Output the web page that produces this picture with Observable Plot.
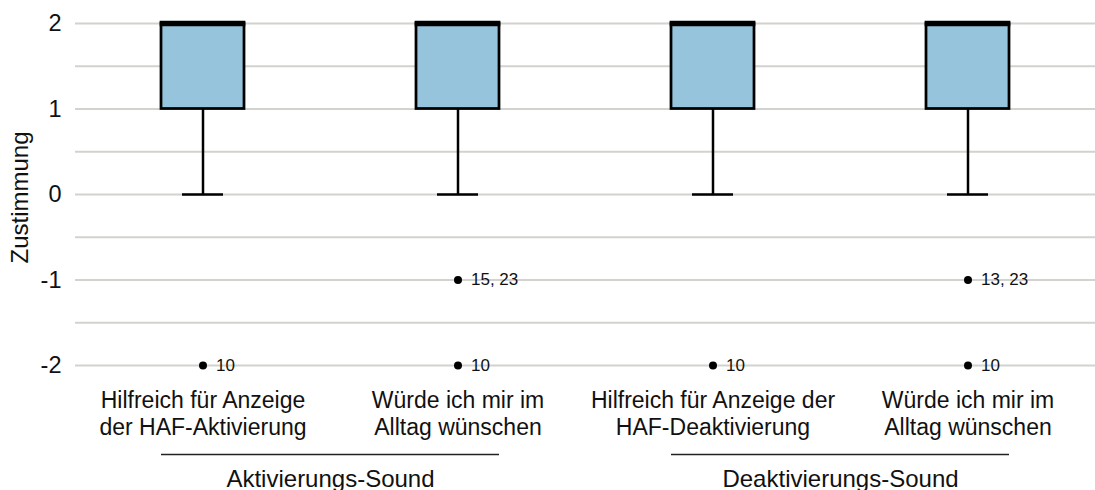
<!DOCTYPE html>
<html>
<head>
<meta charset="utf-8">
<script src="https://cdn.jsdelivr.net/npm/d3@7"></script>
<script src="https://cdn.jsdelivr.net/npm/@observablehq/plot@0.6"></script>
<style>
  body { margin: 0; background: #fff; }
  svg { font-family: "Liberation Sans", Arial, sans-serif; }
</style>
</head>
<body>
<div id="chart"></div>
<script>
// ---- data ----
const ids = ["A1", "A2", "D1", "D2"];
const labels = [
  "Hilfreich für Anzeige\nder HAF-Aktivierung",
  "Würde ich mir im\nAlltag wünschen",
  "Hilfreich für Anzeige der\nHAF-Deaktivierung",
  "Würde ich mir im\nAlltag wünschen"
];
const groupNames = ["Aktivierungs-Sound", "Deaktivierungs-Sound"];
const groupFirst = ["A1", "D1"];
const groupLast = ["A2", "D2"];
const q1 = [1, 1, 1, 1];
const median = [2, 2, 2, 2];
const q3 = [2, 2, 2, 2];
const whiskerLow = [0, 0, 0, 0];
const outlierIds = ["A1", "A2", "A2", "D1", "D2", "D2"];
const outlierValues = [-2, -1, -2, -2, -1, -2];
const outlierLabels = ["10", "15, 23", "10", "10", "13, 23", "10"];
const gridValues = [-2, -1.5, -1, -0.5, 0, 0.5, 1, 1.5, 2];
const yTicks = [-2, -1, 0, 1, 2];

// ---- tables ----
const boxes = ids.map((id, i) => ({id, label: labels[i], q1: q1[i], median: median[i], q3: q3[i], lo: whiskerLow[i]}));
const outliers = outlierIds.map((id, i) => ({id, value: outlierValues[i], label: outlierLabels[i]}));
const groups = groupNames.map((name, i) => ({name, first: groupFirst[i], last: groupLast[i]}));

const boxInset = 86;
const capInset = 107;
const font = "Liberation Sans, Arial, sans-serif";

const chart = Plot.plot({
  width: 1095,
  height: 490,
  marginTop: 23,
  marginBottom: 125,
  marginLeft: 75,
  marginRight: 0,
  style: {fontFamily: font, fontSize: "23px", color: "#111", background: "#fff"},
  x: {domain: ids, padding: 0, axis: null},
  y: {domain: [-2, 2], axis: null},
  marks: [
    Plot.ruleY(gridValues, {stroke: "#d2d2ce", strokeWidth: 2}),
    Plot.axisY({ticks: yTicks, tickFormat: (d) => String(d), tickSize: 0, tickPadding: 14, fontSize: 23.5, label: null}),
    Plot.text(["Zustimmung"], {frameAnchor: "left", text: (d) => d, rotate: -90, dx: -65, dy: 3, textAnchor: "middle", lineAnchor: "top", fontSize: 24, fill: "#111", clip: false}),
    // whiskers
    Plot.ruleX(boxes, {x: "id", y1: "lo", y2: "q1", stroke: "#000", strokeWidth: 2.5}),
    Plot.ruleY(boxes, {x1: "id", x2: "id", y: "lo", insetLeft: capInset, insetRight: capInset, stroke: "#000", strokeWidth: 2.5}),
    // boxes
    Plot.barY(boxes, {x: "id", y1: "q1", y2: "q3", fill: "#96c4dd", stroke: "#000", strokeWidth: 2.75, insetLeft: boxInset, insetRight: boxInset}),
    // medians
    Plot.ruleY(boxes, {x1: "id", x2: "id", y: "median", insetLeft: boxInset - 1.3, insetRight: boxInset - 1.3, stroke: "#000", strokeWidth: 5.5}),
    // outliers
    Plot.dot(outliers, {x: "id", y: "value", r: 4, fill: "#000", stroke: null}),
    Plot.text(outliers, {x: "id", y: "value", text: "label", dx: 13, textAnchor: "start", fontSize: 17, fill: "#111"}),
    // category labels
    Plot.text(boxes, {x: "id", y: () => -2, text: "label", dy: 23, lineAnchor: "top", lineHeight: 1.17, fontSize: 23, fill: "#111", clip: false}),
    // group lines
    Plot.ruleY(groups, {x1: "first", x2: "last", y: () => -2, dy: 89, insetLeft: boxInset, insetRight: boxInset, stroke: "#222", strokeWidth: 1.5, clip: false}),
    Plot.text(groups, {x: "first", y: () => -2, dx: 127.5, dy: 114, text: "name", fontSize: 24, fill: "#111", clip: false})
  ]
});
document.getElementById("chart").appendChild(chart);
</script>
</body>
</html>
